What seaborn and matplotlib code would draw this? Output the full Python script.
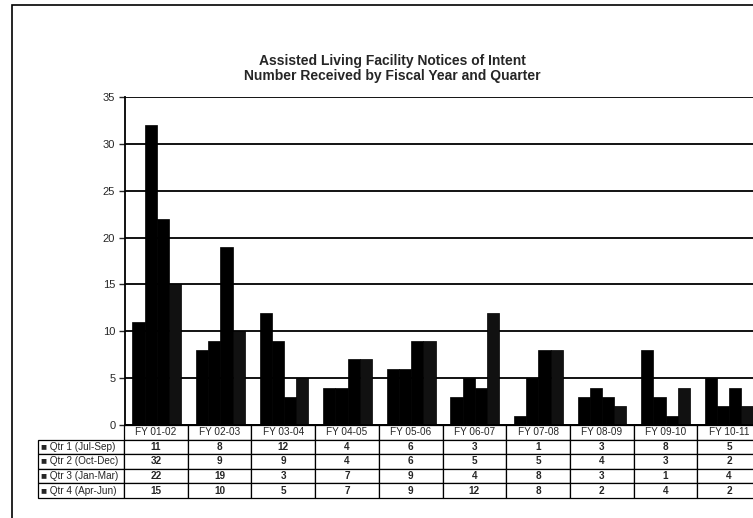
import numpy as np
import pandas as pd
import matplotlib
matplotlib.use("Agg")
import matplotlib.pyplot as plt
import seaborn as sns
from matplotlib.patches import Rectangle
from matplotlib.table import Table

years = ["FY 01-02", "FY 02-03", "FY 03-04", "FY 04-05", "FY 05-06",
         "FY 06-07", "FY 07-08", "FY 08-09", "FY 09-10", "FY 10-11"]
quarters = ["Qtr 1 (Jul-Sep)", "Qtr 2 (Oct-Dec)", "Qtr 3 (Jan-Mar)", "Qtr 4 (Apr-Jun)"]
q1 = [11, 8, 12, 4, 6, 3, 1, 3, 8, 5]
q2 = [32, 9, 9, 4, 6, 5, 5, 4, 3, 2]
q3 = [22, 19, 3, 7, 9, 4, 8, 3, 1, 4]
q4 = [15, 10, 5, 7, 9, 12, 8, 2, 4, 2]
series = [q1, q2, q3, q4]

# long format for seaborn
rows = []
for q, vals in zip(quarters, series):
    for y, v in zip(years, vals):
        rows.append({"year": y, "quarter": q, "count": v})
df = pd.DataFrame(rows)

sns.set_style("white")
plt.rcParams['font.family'] = ['Liberation Sans', 'DejaVu Sans']

fig = plt.figure(figsize=(7.53, 5.18), dpi=100)
W, H = 753.0, 518.0
ax_l, ax_r, ax_t, ax_b = 125, 761, 97, 425
ax = fig.add_axes([ax_l / W, (H - ax_b) / H, (ax_r - ax_l) / W, (ax_b - ax_t) / H])

colors = ["#000000", "#000000", "#000000", "#111111"]
sns.barplot(data=df, x="year", y="count", hue="quarter", palette=colors,
            width=0.77, saturation=1, legend=False, ax=ax,
            edgecolor="black", linewidth=0.5)

ax.set_ylim(0, 35)
ax.set_xlim(-0.5, len(years) - 0.5)
ax.set_yticks(range(0, 36, 5))
ax.yaxis.grid(True, color="black", linewidth=1.3)
ax.set_axisbelow(True)
ax.set_xticks([])
ax.set_xlabel("")
ax.set_ylabel("")
ax.tick_params(axis="y", labelsize=8, length=4, width=1, direction="out",
               left=True, pad=3)
for s in ["top", "right"]:
    ax.spines[s].set_visible(False)
for s in ["left", "bottom"]:
    ax.spines[s].set_color("black")
    ax.spines[s].set_linewidth(1.3)

fig.text(392 / W, 1 - 68.5 / H,
         "Assisted Living Facility Notices of Intent\nNumber Received by Fiscal Year and Quarter",
         fontsize=10, fontweight="bold", ha="center", va="center", linespacing=1.1)

# data table under the plot
aw = ax_r - ax_l
ah = ax_b - ax_t
lab_w, col_w = 86.0, 63.6
x0 = (ax_l - lab_w - 1) - ax_l
tbl = Table(ax, bbox=[x0 / aw, -73 / ah, (aw - x0) / aw, 73 / ah])
row_h = 1.0
hdr = tbl.add_cell(0, 0, lab_w, row_h, text="")
hdr.visible_edges = "open"
for j, y in enumerate(years):
    tbl.add_cell(0, j + 1, col_w, row_h, text=y, loc="center")
for i, (q, vals) in enumerate(zip(quarters, series)):
    c = tbl.add_cell(i + 1, 0, lab_w, row_h, text="\u25a0 " + q, loc="left")
    c.PAD = 0.03
    for j, v in enumerate(vals):
        tbl.add_cell(i + 1, j + 1, col_w, row_h, text=str(v), loc="center")
tbl.auto_set_font_size(False)
for (r, c), cell in tbl.get_celld().items():
    cell.set_linewidth(0.9)
    cell.set_edgecolor("black")
    if c == 0:
        cell.get_text().set_fontsize(7.2)
    elif r == 0:
        cell.get_text().set_fontsize(7.2)
    else:
        cell.get_text().set_fontsize(7.2)
        cell.get_text().set_fontweight("bold")
ax.add_table(tbl)

# outer border of the scanned chart
fig.add_artist(Rectangle((12 / W, -0.05), 1.0, (H - 5) / H + 0.05,
                         transform=fig.transFigure, fill=False,
                         linewidth=1.2, edgecolor="black"))

fig.savefig("out.png", dpi=100)
